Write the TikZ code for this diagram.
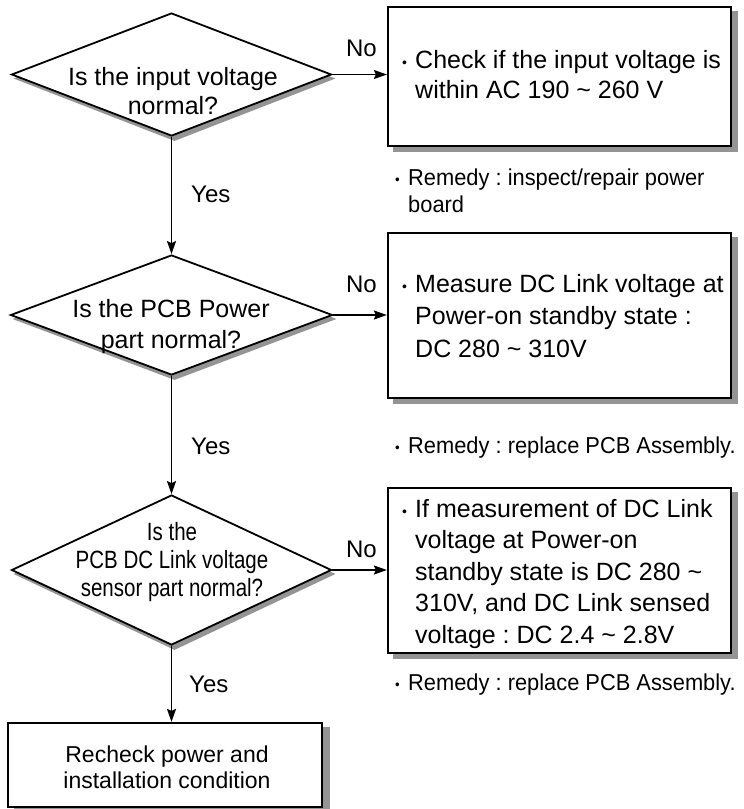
\documentclass[tikz,border=0pt]{standalone}
\usepackage{fontspec}
\setmainfont{Liberation Sans}
\newfontfamily\narrowfont[FakeStretch=0.95]{Liberation Sans}
\newfontfamily\condfont[FakeStretch=0.82]{Liberation Sans}
\usetikzlibrary{shapes.geometric,arrows.meta,backgrounds}
\frenchspacing
\newcommand{\bul}{\makebox[13pt][l]{\fontsize{14}{14}\selectfont\raisebox{1pt}{•}}}
\begin{document}
\begin{tikzpicture}[x=1pt,y=-1pt,
  dia/.style={diamond, draw=black, line width=1.8pt, fill=white, inner sep=0pt},
  box/.style={rectangle, draw=black, line width=2.2pt, fill=white, inner sep=0pt},
  shad/.style={fill=black!42},
  conn/.style={line width=1.8pt, -{Stealth[length=13pt,width=9pt,inset=2pt]}},
  dtxt/.style={inner sep=0pt, anchor=base, font=\fontsize{25}{29}\selectfont},
  btxt/.style={inner sep=0pt, anchor=base west, font=\fontsize{25}{31.5}\selectfont},
  rtxt/.style={inner sep=0pt, anchor=base west, font=\narrowfont\fontsize{23}{27}\selectfont},
  lbl/.style={inner sep=0pt, font=\fontsize{24}{24}\selectfont}
]
\useasboundingbox (0,0) rectangle (744,809);

% decisions
\node[dia, minimum width=320pt, minimum height=123pt] (d1) at (171.5,74.5) {};
\node[dia, minimum width=322pt, minimum height=120pt] (d2) at (171.5,315) {};
\node[dia, minimum width=320pt, minimum height=150pt] (d3) at (171.5,570) {};

% boxes
\node[box, minimum width=343pt, minimum height=139pt] (b1) at (559.5,76.5) {};
\node[box, minimum width=343pt, minimum height=165pt] (b2) at (559.5,315.5) {};
\node[box, minimum width=343pt, minimum height=165pt] (b3) at (559.5,570.5) {};
\node[box, minimum width=314pt, minimum height=84pt] (b4) at (165,765) {};

% shadows
\begin{scope}[on background layer]
  \foreach \d in {d1,d2,d3}
    \fill[shad] ([xshift=3pt,yshift=-4pt]\d.north) -- ([xshift=3pt,yshift=-4pt]\d.east)
      -- ([xshift=3pt,yshift=-4pt]\d.south) -- ([xshift=3pt,yshift=-4pt]\d.west) -- cycle;
  \foreach \b in {b1,b2,b3}
    \fill[shad] ([xshift=6pt,yshift=-5pt]\b.south west) rectangle ([xshift=6pt,yshift=-5pt]\b.north east);
  \fill[shad] ([xshift=7pt,yshift=-5pt]b4.south west) rectangle ([xshift=7pt,yshift=-5pt]b4.north east);
\end{scope}

% diamond texts
\node[dtxt] (t1) at (173,85) {\begin{tabular}[t]{@{}c@{}}Is the input voltage\\normal?\end{tabular}};
\node[dtxt, font=\fontsize{25}{31}\selectfont] (t2) at (171,317) {\begin{tabular}[t]{@{}c@{}}Is the PCB Power\\part normal?\end{tabular}};
\node[dtxt, font=\condfont\fontsize{25}{28}\selectfont] (t3) at (172,540) {\begin{tabular}[t]{@{}c@{}}Is the\\PCB DC Link voltage\\sensor part normal?\end{tabular}};

% box texts
\node[btxt, font=\fontsize{25}{30}\selectfont] (bt1) at (402,68) {\begin{tabular}[t]{@{}l@{}l@{}}\bul&Check if the input voltage is\\&within AC 190 \char`~{} 260 V\end{tabular}};
\node[btxt, font=\fontsize{25}{32.5}\selectfont] (bt2) at (402,292) {\begin{tabular}[t]{@{}l@{}l@{}}\bul&Measure DC Link voltage at\\&Power-on standby state :\\&DC 280 \char`~{} 310V\end{tabular}};
\node[btxt] (bt3) at (402,517) {\begin{tabular}[t]{@{}l@{}l@{}}\bul&If measurement of DC Link\\&voltage at Power-on\\&standby state is DC 280 \char`~\\&310V, and DC Link sensed\\&voltage : DC 2.4 \char`~{} 2.8V\end{tabular}};
\node[dtxt, font=\fontsize{23}{26}\selectfont] (bt4) at (167,762) {\begin{tabular}[t]{@{}c@{}}Recheck power and\\installation condition\end{tabular}};

% remedies
\node[rtxt] (r1) at (395,185) {\begin{tabular}[t]{@{}l@{}l@{}}\bul&Remedy : inspect/repair power\\&board\end{tabular}};
\node[rtxt] (r2) at (395,453) {\begin{tabular}[t]{@{}l@{}l@{}}\bul&Remedy : replace PCB Assembly.\end{tabular}};
\node[rtxt] (r3) at (395,690) {\begin{tabular}[t]{@{}l@{}l@{}}\bul&Remedy : replace PCB Assembly.\end{tabular}};

% connectors
\draw[conn] (d1.east) -- (d1.east -| b1.west);
\draw[conn] (d2.east) -- (d2.east -| b2.west);
\draw[conn] (d3.east) -- (d3.east -| b3.west);
\draw[conn] (d1.south) -- (d2.north);
\draw[conn] (d2.south) -- (d3.north);
\draw[conn] (d3.south) -- (d3.south |- b4.north);

% labels
\node[lbl, anchor=base east] (n1) at (377,56) {No};
\node[lbl, anchor=base east] (n2) at (377,292) {No};
\node[lbl, anchor=base east] (n3) at (377,557) {No};
\node[lbl, anchor=base west] (y1) at (191,202) {Yes};
\node[lbl, anchor=base west] (y2) at (191,454) {Yes};
\node[lbl, anchor=base west] (y3) at (189,692) {Yes};
\end{tikzpicture}
\end{document}
